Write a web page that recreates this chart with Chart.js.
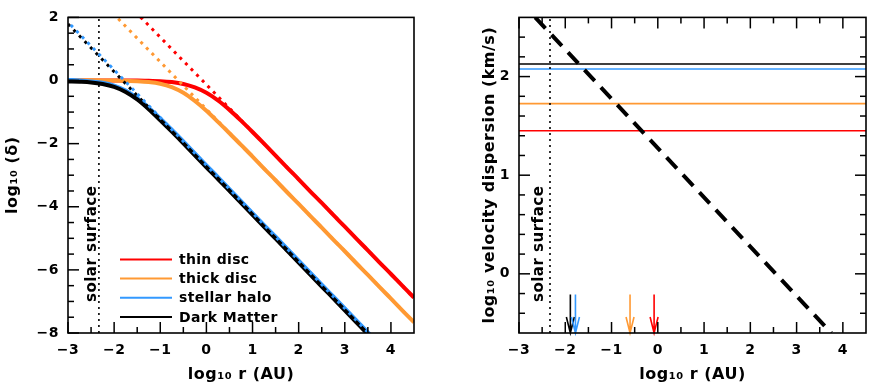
<!DOCTYPE html>
<html><head><meta charset="utf-8">
<script src="https://cdn.jsdelivr.net/npm/chart.js@4.4.1/dist/chart.umd.min.js"></script>
<style>
html,body{margin:0;padding:0;background:#fff;}
#wrap{position:relative;width:872px;height:391px;overflow:hidden;}
.pane{position:absolute;top:0;width:436px;height:391px;}
</style></head><body>
<div id="wrap">
<div class="pane" style="left:0"><canvas id="c1" width="436" height="391"></canvas></div>
<div class="pane" style="left:436px"><canvas id="c2" width="436" height="391"></canvas></div>
</div>
<script>
// ---------- data ----------
const logR = [-3,-2.75,-2.5,-2.25,-2,-1.75,-1.5,-1.25,-1,-0.75,-0.5,-0.25,0,0.25,0.5,0.75,1,1.25,1.5,1.75,2,2.25,2.5,2.75,3,3.25,3.5,3.75,4,4.25,4.5];
const thinDisc    = [0,0,0,0,0,0,0,-0.01,-0.02,-0.05,-0.11,-0.22,-0.39,-0.63,-0.93,-1.27,-1.63,-2.0,-2.38,-2.76,-3.13,-3.51,-3.88,-4.26,-4.63,-5.01,-5.38,-5.76,-6.13,-6.51,-6.88];
const thickDisc   = [0.01,0.01,0.01,0,0,-0.01,-0.02,-0.045,-0.1,-0.21,-0.39,-0.65,-0.96,-1.31,-1.67,-2.04,-2.41,-2.79,-3.16,-3.54,-3.91,-4.29,-4.66,-5.04,-5.41,-5.79,-6.16,-6.54,-6.91,-7.29,-7.66];
const stellarHalo = [0.02,0,-0.03,-0.07,-0.16,-0.32,-0.56,-0.86,-1.2,-1.56,-1.93,-2.31,-2.69,-3.06,-3.44,-3.82,-4.2,-4.58,-4.95,-5.33,-5.71,-6.09,-6.47,-6.84,-7.22,-7.6,-7.98,-8.36,-8.73,-9.11,-9.49];
const darkMatter  = [-0.03,-0.04,-0.06,-0.11,-0.2,-0.36,-0.6,-0.91,-1.26,-1.62,-1.99,-2.37,-2.75,-3.12,-3.5,-3.88,-4.26,-4.64,-5.01,-5.39,-5.77,-6.15,-6.53,-6.9,-7.28,-7.66,-8.04,-8.42,-8.79,-9.17,-9.55];

// asymptotic power laws (dotted), end points at log r = -3 and 4.5
const asymR        = [-3, 4.5];
const thinDiscAsym = [4.37, -6.88];
const thickDiscAsym= [3.59, -7.66];
const haloAsym     = [1.85, -9.49];
const dmAsym       = [1.79, -9.55];

const solarSurfaceR = -2.33;

// right panel
const sigmaNames = ['thin disc','thick disc','stellar halo','Dark Matter'];
const logSigma   = [1.451, 1.726, 2.077, 2.127];
const sigmaR     = [-3, 4.5];
const keplerR    = [-2.65, 3.75];
const keplerV    = [2.6, -0.6];
const arrowR     = [-0.08, -0.60, -1.78, -1.89];   // thin, thick, halo, DM
const arrowTopV  = -0.21;

// ticks
const leftXMajor  = [-3,-2,-1,0,1,2,3,4];
const leftXMinor  = [-2.5,-1.5,-0.5,0.5,1.5,2.5,3.5];
const leftYMajor  = [-8,-6,-4,-2,0,2];
const leftYMinor  = [-7.5,-7,-6.5,-5.5,-5,-4.5,-3.5,-3,-2.5,-1.5,-1,-0.5,0.5,1,1.5];
const rightYMajor = [0,1,2];
const rightYMinor = [-0.4,-0.2,0.2,0.4,0.6,0.8,1.2,1.4,1.6,1.8,2.2,2.4];

const COLORS = ['#ff0000','#ff9933','#3399ff','#000000'];
const FONT = '"DejaVu Sans", sans-serif';

// ---------- helpers ----------
const pts = (xs, ys) => xs.map((v, i) => ({x: v, y: ys[i]}));
const minus = v => String(v).replace('-', '\u2212');

const decor = {
  id: 'decor',
  beforeDraw(chart) { chart.ctx.letterSpacing = '0.5px'; },
  afterDraw(chart, args, o) {
    const {ctx, chartArea: a, scales: {x, y}} = chart;
    ctx.save();
    // solar surface label
    const sx = x.getPixelForValue(solarSurfaceR);
    ctx.save();
    ctx.font = 'bold 15px ' + FONT; ctx.fillStyle = '#000'; ctx.letterSpacing = '0.5px';
    ctx.translate(sx - o.solarGap, a.bottom - 31);
    ctx.rotate(-Math.PI / 2);
    ctx.textAlign = 'left'; ctx.textBaseline = 'alphabetic';
    ctx.fillText('solar surface', 0, 0);
    ctx.restore();

    // legend
    if (o.legend) {
      ctx.save();
      ctx.font = 'bold 14px ' + FONT; ctx.letterSpacing = '0.3px';
      ctx.textBaseline = 'middle'; ctx.textAlign = 'left'; ctx.lineWidth = 2;
      sigmaNames.forEach((n, i) => {
        const ly = a.top + 242 + i * 19.2;
        ctx.strokeStyle = COLORS[i];
        ctx.beginPath(); ctx.moveTo(a.left + 52, ly); ctx.lineTo(a.left + 104, ly); ctx.stroke();
        ctx.fillStyle = '#000';
        ctx.fillText(n, a.left + 111, ly + 1);
      });
      ctx.restore();
    }

    // arrows
    if (o.arrows) {
      ctx.save();
      ctx.lineWidth = 1.6;
      [3, 2, 1, 0].forEach(i => {
        const px = x.getPixelForValue(arrowR[i]);
        const top = y.getPixelForValue(arrowTopV);
        const bot = y.getPixelForValue(y.min);
        ctx.strokeStyle = COLORS[i];
        ctx.beginPath();
        ctx.moveTo(px, top); ctx.lineTo(px, bot);
        ctx.moveTo(px - 4, bot - 16); ctx.lineTo(px, bot); ctx.lineTo(px + 4, bot - 16);
        ctx.stroke();
      });
      ctx.restore();
    }

    // frame
    ctx.strokeStyle = '#000'; ctx.lineWidth = 1.6;
    ctx.strokeRect(a.left, a.top, a.right - a.left, a.bottom - a.top);
    // tick marks
    ctx.lineWidth = 1.5;
    const seg = (x1, y1, x2, y2) => { ctx.beginPath(); ctx.moveTo(x1, y1); ctx.lineTo(x2, y2); ctx.stroke(); };
    const MAJ = 11, MIN = 6;
    const xt = (vals, len) => vals.forEach(v => {
      const p = x.getPixelForValue(v);
      seg(p, a.bottom, p, a.bottom - len);
      if (o.mirror) seg(p, a.top, p, a.top + len);
    });
    const yt = (vals, len) => vals.forEach(v => {
      const p = y.getPixelForValue(v);
      seg(a.left, p, a.left + len, p);
      if (o.mirror) seg(a.right, p, a.right - len, p);
    });
    xt(o.xMajor, MAJ); xt(o.xMinor, MIN);
    yt(o.yMajor, MAJ); yt(o.yMinor, MIN);
    ctx.restore();
  }
};

function solid(data, color, order) {
  return {data, borderColor: color, borderWidth: 4, pointRadius: 0, cubicInterpolationMode: 'monotone', clip: 0, order};
}
function dotted(data, color, order, offset) {
  return {data, borderColor: color, borderWidth: 3, pointRadius: 0, borderDash: [3, 5], borderDashOffset: offset || 0, borderCapStyle: 'butt', clip: 0, order};
}

function baseScales(xTicks, yTicks, yMin, yMax, yWidth, yTitle, yTitlePad) {
  return {
    x: {
      type: 'linear', min: -3, max: 4.5,
      afterFit(s) { s.height = 58; },
      afterBuildTicks(s) { s.ticks = xTicks.map(v => ({value: v})); },
      grid: {display: false, drawTicks: false}, border: {display: false},
      ticks: {padding: 9, color: '#000', font: {family: FONT, size: 14, weight: 'bold'}, maxRotation: 0, autoSkip: false, callback: v => minus(v)},
      title: {display: true, text: 'log\u2081\u2080 r (AU)', color: '#000', font: {family: FONT, size: 16, weight: 'bold'}, padding: {top: 0, bottom: 7}}
    },
    y: {
      type: 'linear', min: yMin, max: yMax,
      afterFit(s) { s.width = yWidth; },
      afterBuildTicks(s) { s.ticks = yTicks.map(v => ({value: v})); },
      grid: {display: false, drawTicks: false}, border: {display: false},
      ticks: {padding: 9, color: '#000', font: {family: FONT, size: 14, weight: 'bold'}, autoSkip: false, callback: v => minus(v)},
      title: {display: true, text: yTitle, color: '#000', font: {family: FONT, size: 16, weight: 'bold'}, padding: {top: yTitlePad, bottom: 0}}
    }
  };
}

// ---------- left panel ----------
new Chart(document.getElementById('c1'), {
  type: 'line',
  data: {
    datasets: [
      solid(pts(logR, thinDisc), COLORS[0], 10),
      solid(pts(logR, thickDisc), COLORS[1], 9),
      dotted(pts(asymR, thinDiscAsym), COLORS[0], 8),
      dotted(pts(asymR, thickDiscAsym), COLORS[1], 7),
      solid(pts(logR, stellarHalo), COLORS[2], 6),
      solid(pts(logR, darkMatter), COLORS[3], 5),
      dotted(pts(asymR, dmAsym), COLORS[3], 4, 0),
      dotted(pts(asymR, haloAsym), COLORS[2], 3, 4),
      {data: [{x: solarSurfaceR, y: -8}, {x: solarSurfaceR, y: 2}], borderColor: '#000', borderWidth: 1.6, borderDash: [2, 4], pointRadius: 0, clip: 0, order: 11}
    ]
  },
  options: {
    responsive: false, animation: false, devicePixelRatio: 1,
    layout: {padding: {left: 0, top: 15, right: 22, bottom: 0}},
    plugins: {
      legend: {display: false}, tooltip: {enabled: false},
      decor: {solarGap: 2.5, legend: true, arrows: false, mirror: false,
              xMajor: leftXMajor, xMinor: leftXMinor, yMajor: leftYMajor, yMinor: leftYMinor}
    },
    scales: baseScales(leftXMajor, leftYMajor, -8, 2, 68, 'log\u2081\u2080 (\u03b4)', 3)
  },
  plugins: [decor]
});

// ---------- right panel ----------
const rightSets = logSigma.map((v, i) => ({
  data: pts(sigmaR, [v, v]), borderColor: COLORS[i], borderWidth: 1.6, pointRadius: 0, clip: 0, order: 5 + i
}));
rightSets.push({data: pts(keplerR, keplerV), borderColor: '#000', borderWidth: 4, borderDash: [15, 9], pointRadius: 0, clip: 0, order: 1});
rightSets.push({data: [{x: solarSurfaceR, y: -0.6}, {x: solarSurfaceR, y: 2.6}], borderColor: '#000', borderWidth: 1.6, borderDash: [2, 4], pointRadius: 0, clip: 0, order: 2});

new Chart(document.getElementById('c2'), {
  type: 'line',
  data: {datasets: rightSets},
  options: {
    responsive: false, animation: false, devicePixelRatio: 1,
    layout: {padding: {left: 36, top: 15, right: 6, bottom: 0}},
    plugins: {
      legend: {display: false}, tooltip: {enabled: false},
      decor: {solarGap: 7, legend: false, arrows: true, mirror: true,
              xMajor: leftXMajor, xMinor: leftXMinor, yMajor: rightYMajor, yMinor: rightYMinor}
    },
    scales: baseScales(leftXMajor, rightYMajor, -0.6, 2.6, 47, 'log\u2081\u2080 velocity dispersion (km/s)', 8)
  },
  plugins: [decor]
});
</script>
</body></html>
